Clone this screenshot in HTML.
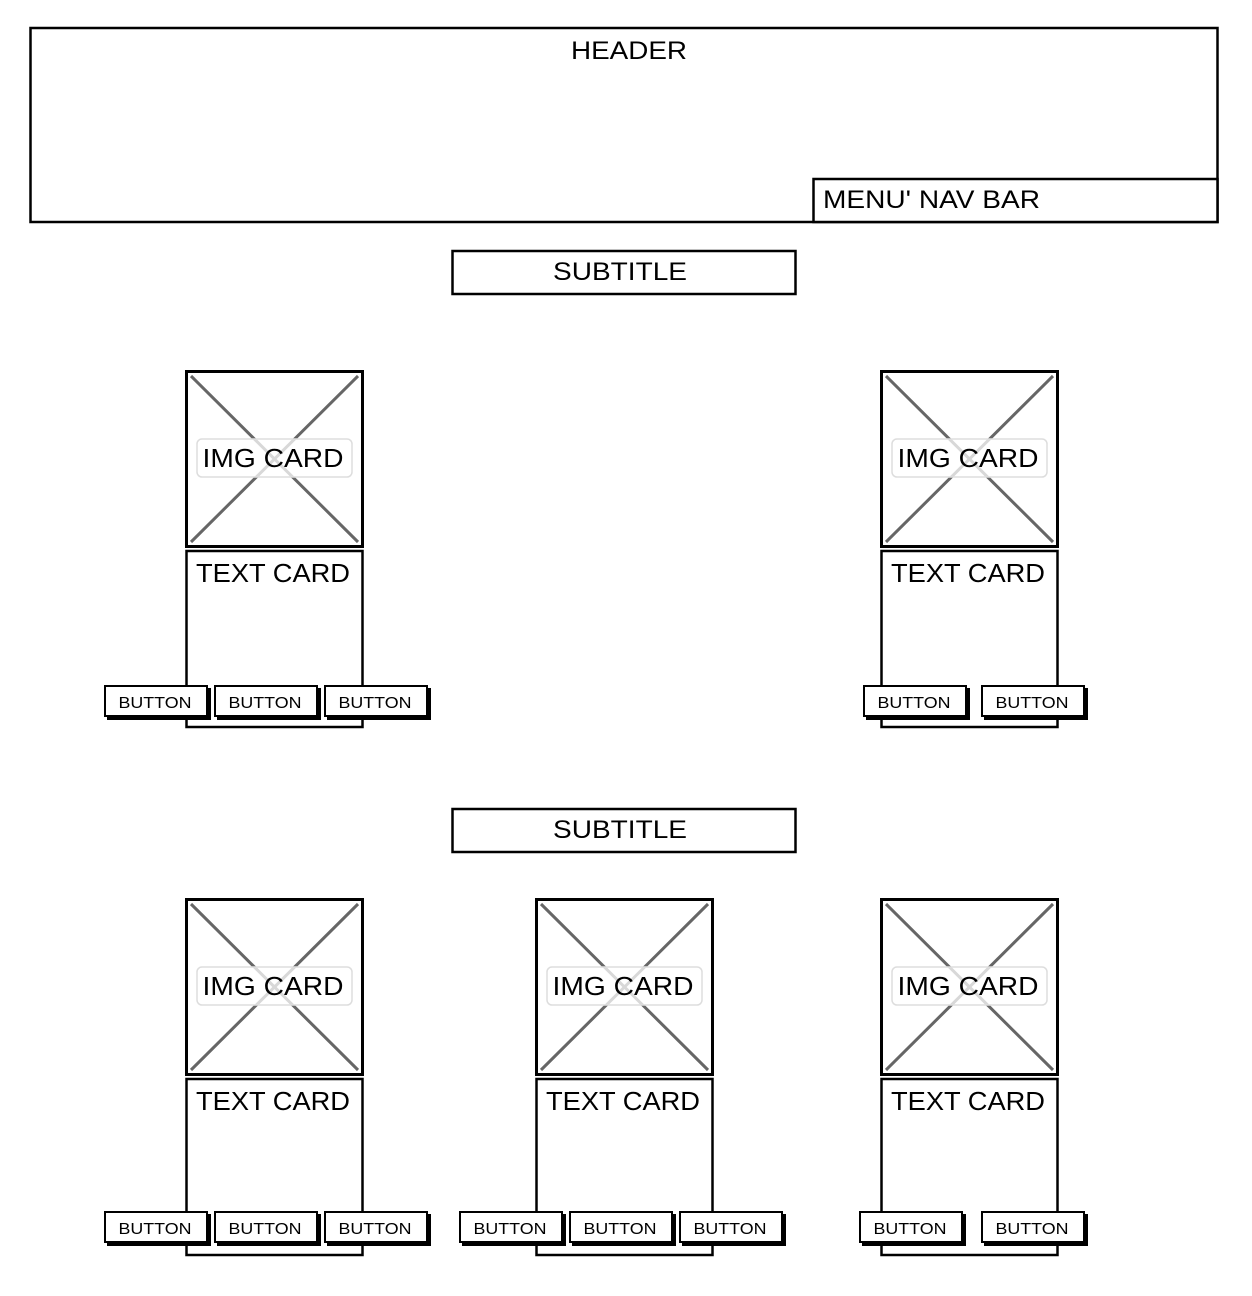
<!DOCTYPE html>
<html><head><meta charset="utf-8"><style>
html,body{margin:0;padding:0;background:#fff;}
svg{display:block;}
text{font-family:"Liberation Sans","DejaVu Sans",sans-serif;fill:#000;}
</style></head><body>
<svg width="1252" height="1296" viewBox="0 0 1252 1296" xmlns="http://www.w3.org/2000/svg">
<defs>
<g id="btn">
<rect x="3" y="3" width="104" height="32" fill="#000"/>
<rect x="1" y="1" width="102" height="30" fill="#fff" stroke="#000" stroke-width="2"/>
<text x="51" y="23" font-size="16" text-anchor="middle" textLength="73" lengthAdjust="spacingAndGlyphs">BUTTON</text>
</g>
<g id="card">
<rect x="1.5" y="1.5" width="176" height="175" fill="#fff" stroke="#000" stroke-width="3"/>
<line x1="6" y1="6" x2="173" y2="172" stroke="#666" stroke-width="3"/>
<line x1="173" y1="6" x2="6" y2="172" stroke="#666" stroke-width="3"/>
<rect x="12" y="69" width="155" height="38" rx="5" fill="#fff" fill-opacity="0.75" stroke="#ddd" stroke-width="1.5"/>
<text x="88" y="97" font-size="26" text-anchor="middle" textLength="141" lengthAdjust="spacingAndGlyphs">IMG CARD</text>
<rect x="1.5" y="181" width="176" height="176" fill="#fff" stroke="#000" stroke-width="2.5"/>
<text x="88" y="212" font-size="26" text-anchor="middle" textLength="154" lengthAdjust="spacingAndGlyphs">TEXT CARD</text>
</g>
</defs>
<rect x="30.5" y="28" width="1187" height="194" fill="#fff" stroke="#000" stroke-width="2.5"/>
<text x="629" y="59" font-size="25" text-anchor="middle" textLength="116" lengthAdjust="spacingAndGlyphs">HEADER</text>
<rect x="813.5" y="179" width="404" height="43" fill="#fff" stroke="#000" stroke-width="2.5"/>
<text x="823" y="208" font-size="25" textLength="217" lengthAdjust="spacingAndGlyphs">MENU' NAV BAR</text>

<rect x="452.5" y="251" width="343" height="43" fill="#fff" stroke="#000" stroke-width="2.5"/>
<text x="620" y="280" font-size="25" text-anchor="middle" textLength="134" lengthAdjust="spacingAndGlyphs">SUBTITLE</text>
<rect x="452.5" y="809" width="343" height="43" fill="#fff" stroke="#000" stroke-width="2.5"/>
<text x="620" y="838" font-size="25" text-anchor="middle" textLength="134" lengthAdjust="spacingAndGlyphs">SUBTITLE</text>

<use href="#card" x="185" y="370"/>
<use href="#card" x="880" y="370"/>
<use href="#btn" x="104" y="685"/>
<use href="#btn" x="214" y="685"/>
<use href="#btn" x="324" y="685"/>
<use href="#btn" x="863" y="685"/>
<use href="#btn" x="981" y="685"/>

<use href="#card" x="185" y="898"/>
<use href="#card" x="535" y="898"/>
<use href="#card" x="880" y="898"/>
<use href="#btn" x="104" y="1211"/>
<use href="#btn" x="214" y="1211"/>
<use href="#btn" x="324" y="1211"/>
<use href="#btn" x="459" y="1211"/>
<use href="#btn" x="569" y="1211"/>
<use href="#btn" x="679" y="1211"/>
<use href="#btn" x="859" y="1211"/>
<use href="#btn" x="981" y="1211"/>
</svg>
</body></html>
